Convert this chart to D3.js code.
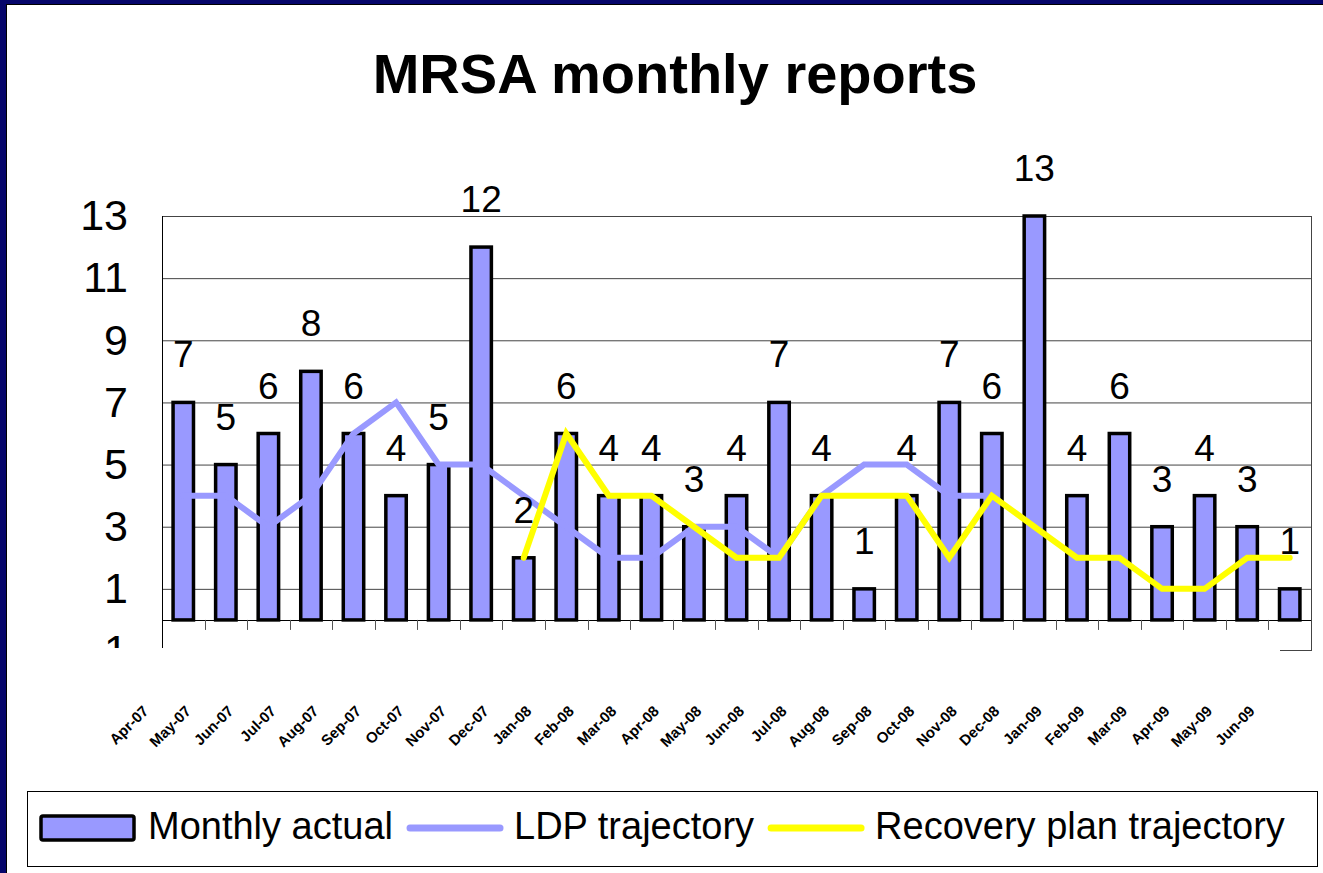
<!DOCTYPE html>
<html>
<head>
<meta charset="utf-8">
<script src="https://cdn.jsdelivr.net/npm/d3@7"></script>
<style>
  html, body { margin: 0; padding: 0; background: #fff; }
  svg { display: block; font-family: "Liberation Sans", Arial, sans-serif; }
</style>
</head>
<body>
<svg id="chart" width="1323" height="873"></svg>
<script>
// monthly reports, one per category
const months = ["Apr-07","May-07","Jun-07","Jul-07","Aug-07","Sep-07","Oct-07","Nov-07","Dec-07",
  "Jan-08","Feb-08","Mar-08","Apr-08","May-08","Jun-08","Jul-08","Aug-08","Sep-08","Oct-08",
  "Nov-08","Dec-08","Jan-09","Feb-09","Mar-09","Apr-09","May-09","Jun-09"];
const monthlyActual = [7,5,6,8,6,4,5,12,2,6,4,4,3,4,7,4,1,4,7,6,13,4,6,3,4,3,1];
// LDP trajectory runs to month 20, recovery plan starts at month 9
const ldpTrajectory = [4,4,3,4,6,7,5,5,4,3,2,2,3,3,2,4,5,5,4,4,null,null,null,null,null,null,null];
const recoveryPlan = [null,null,null,null,null,null,null,null,2,6,4,4,3,2,2,4,4,4,2,4,3,2,2,1,1,2,2];
const yTicks = [-1,1,3,5,7,9,11,13];

const barColor = "#9999ff";
const yellow = "#ffff00";

const svg = d3.select("#chart");

// slide frame
svg.append("rect").attr("x", 0).attr("y", 0).attr("width", 1323).attr("height", 4).attr("fill", "#06066b");
svg.append("rect").attr("x", 0).attr("y", 0).attr("width", 6).attr("height", 873).attr("fill", "#06066b");
svg.append("line").attr("x1", 6.5).attr("x2", 6.5).attr("y1", 4).attr("y2", 873).attr("stroke", "#000");
svg.append("line").attr("x1", 6).attr("x2", 1323).attr("y1", 4.5).attr("y2", 4.5).attr("stroke", "#000");

svg.append("text")
  .attr("x", 675).attr("y", 93)
  .attr("text-anchor", "middle")
  .style("font-size", "56px").style("font-weight", "bold")
  .text("MRSA monthly reports");

const plotL = 162, plotR = 1311, plotT = 216, plotB = 651;

const x = d3.scaleBand()
  .domain(d3.range(monthlyActual.length))
  .range([plotL, plotR])
  .paddingInner(0.52)
  .paddingOuter(0.26);
const step = x.step();
const cx = i => x(i) + x.bandwidth() / 2;

const y = d3.scaleLinear().domain([-1, 13]).range([plotB, plotT]);

// gridlines + y labels
const yAxis = d3.axisLeft(y).tickValues(yTicks).tickSize(15).tickPadding(19);
const gy = svg.append("g").attr("transform", `translate(${plotL},0)`).call(yAxis);
gy.select(".domain").remove();
gy.selectAll(".tick line").attr("stroke", "#444");
gy.selectAll(".tick").filter(d => d > 0).select("line").attr("x2", plotR - plotL);
gy.selectAll(".tick").filter(d => d < 0).select("line").remove();
gy.selectAll(".tick text")
  .style("font-size", "43px").attr("fill", "#000")
  .attr("font-family", "Liberation Sans, Arial, sans-serif");
svg.append("clipPath").attr("id", "ylab").append("rect").attr("x", -plotL).attr("y", 0).attr("width", plotR).attr("height", 648);
gy.attr("clip-path", "url(#ylab)");

// y axis line
svg.append("line").attr("x1", plotL + 0.5).attr("x2", plotL + 0.5).attr("y1", plotT).attr("y2", 648).attr("stroke", "#000");
// plot border right + bottom stub
svg.append("line").attr("x1", plotR + 0.5).attr("x2", plotR + 0.5).attr("y1", plotT).attr("y2", plotB).attr("stroke", "#444");
svg.append("line").attr("x1", 1280).attr("x2", plotR + 1).attr("y1", plotB - 0.5).attr("y2", plotB - 0.5).attr("stroke", "#444");

// category axis at zero
svg.append("line").attr("x1", plotL).attr("x2", plotR).attr("y1", Math.round(y(0)) + 0.5).attr("y2", Math.round(y(0)) + 0.5).attr("stroke", "#000");
svg.append("g").selectAll("line")
  .data(d3.range(1, monthlyActual.length))
  .join("line")
  .attr("x1", i => Math.round(plotL + i * step) + 0.5)
  .attr("x2", i => Math.round(plotL + i * step) + 0.5)
  .attr("y1", y(0)).attr("y2", y(0) + 10)
  .attr("stroke", "#555");

// bars
svg.append("g").selectAll("rect")
  .data(monthlyActual)
  .join("rect")
  .attr("x", (d, i) => x(i))
  .attr("y", d => y(d))
  .attr("width", x.bandwidth())
  .attr("height", d => y(0) - y(d))
  .attr("fill", barColor)
  .attr("stroke", "#000")
  .attr("stroke-width", 3.5);

// lines
const line = d3.line()
  .defined(d => d != null)
  .x((d, i) => cx(i))
  .y(d => y(d));

svg.append("path").datum(ldpTrajectory)
  .attr("d", line).attr("fill", "none")
  .attr("stroke", barColor).attr("stroke-width", 6)
  .attr("stroke-linecap", "round");

svg.append("path").datum(recoveryPlan)
  .attr("d", line).attr("fill", "none")
  .attr("stroke", yellow).attr("stroke-width", 6)
  .attr("stroke-linecap", "round");

// data labels
svg.append("g").selectAll("text")
  .data(monthlyActual)
  .join("text")
  .attr("x", (d, i) => cx(i))
  .attr("y", d => y(d) - 35)
  .attr("text-anchor", "middle")
  .style("font-size", "37px")
  .text(d => d);

// month labels
svg.append("g").selectAll("text")
  .data(months)
  .join("text")
  .attr("text-anchor", "end")
  .attr("transform", (d, i) => `translate(${cx(i) - 34},712) rotate(-45)`)
  .style("font-size", "15px").style("font-weight", "bold")
  .text(d => d);

// legend
const lg = svg.append("g");
lg.append("rect")
  .attr("x", 27.5).attr("y", 791.5).attr("width", 1290).attr("height", 75)
  .attr("fill", "#fff").attr("stroke", "#000");

const legendItems = [
  { name: "Monthly actual", type: "bar", color: barColor },
  { name: "LDP trajectory", type: "line", color: barColor },
  { name: "Recovery plan trajectory", type: "line", color: yellow }
];
let lx = 41;
const ly = 828;
legendItems.forEach(item => {
  if (item.type === "bar") {
    lg.append("rect").attr("x", lx).attr("y", ly - 12).attr("width", 93).attr("height", 24)
      .attr("rx", 2).attr("fill", item.color).attr("stroke", "#000").attr("stroke-width", 3.5);
  } else {
    lg.append("line").attr("x1", lx + 3).attr("x2", lx + 93).attr("y1", ly).attr("y2", ly)
      .attr("stroke", item.color).attr("stroke-width", 7).attr("stroke-linecap", "round");
  }
  const t = lg.append("text").attr("x", lx + 107).attr("y", ly + 11)
    .style("font-size", "38px").text(item.name);
  lx += 107 + t.node().getComputedTextLength() + 14;
});
</script>
</body>
</html>
